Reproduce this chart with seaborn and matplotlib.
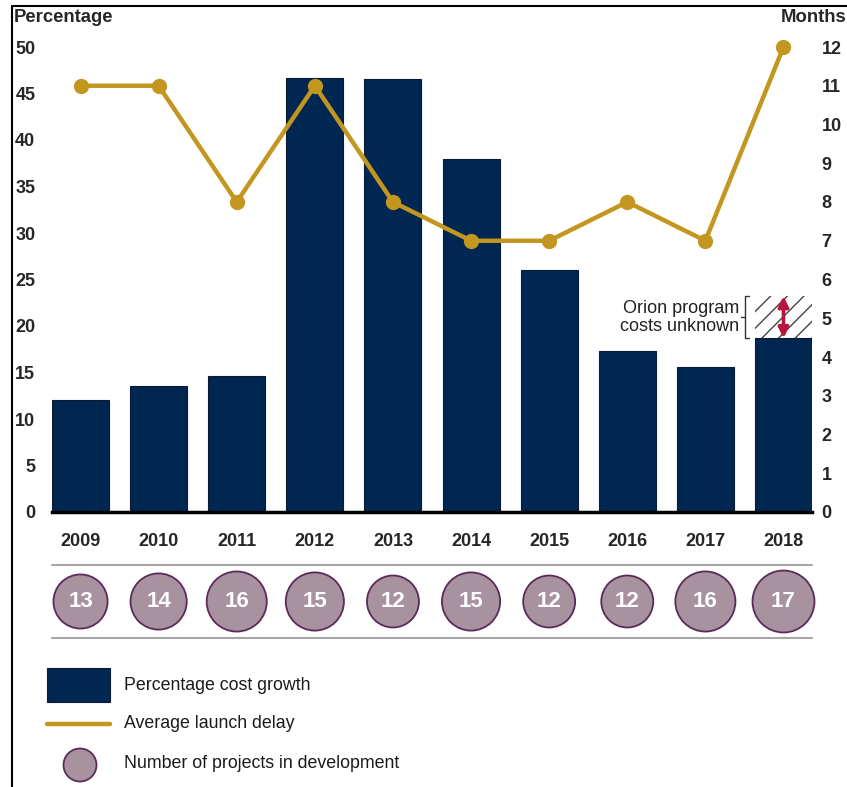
import numpy as np
import matplotlib
matplotlib.use("Agg")
import matplotlib.pyplot as plt
import seaborn as sns
from matplotlib.patches import Rectangle, Circle
from matplotlib.lines import Line2D

# chart data
years = ["2009", "2010", "2011", "2012", "2013", "2014", "2015", "2016", "2017", "2018"]
cost_growth = [12.0, 13.5, 14.6, 46.7, 46.6, 38.0, 26.0, 17.3, 15.6, 18.7]
launch_delay = [11, 11, 8, 11, 8, 7, 7, 8, 7, 12]
projects = [13, 14, 16, 15, 12, 15, 12, 12, 16, 17]
orion_upper = 23.2  # top of the "costs unknown" band on the 2018 bar

navy = "#002652"
gold = "#c2961f"
lilac = "#a8929f"
plum = "#5a2b58"
red = "#b8153e"

sns.set_theme(style="white")
plt.rcParams["font.family"] = ["Liberation Sans", "DejaVu Sans"]
plt.rcParams["hatch.linewidth"] = 1.0

W, H = 847, 787
fig = plt.figure(figsize=(W / 100, H / 100), dpi=100)

# main chart axes
ax = fig.add_axes([52 / W, 1 - 512 / H, 760 / W, 465 / H])
pos = np.arange(len(years))
sns.barplot(x=pos, y=cost_growth, color=navy, width=0.73, saturation=1,
            edgecolor="#0c1a33", linewidth=0.8, ax=ax, native_scale=True)
# hatched band for the unknown Orion costs
ax.bar(pos[-1], orion_upper - cost_growth[-1], bottom=cost_growth[-1], width=0.73,
       fill=False, hatch="//", edgecolor="#444444", linewidth=0)
ax.annotate("", xy=(pos[-1], orion_upper), xytext=(pos[-1], cost_growth[-1]),
            arrowprops=dict(arrowstyle="<|-|>", color=red, lw=2.6,
                            mutation_scale=15, shrinkA=0, shrinkB=0))
bx = pos[-1] - 0.49
ax.plot([bx + 0.05, bx, bx, bx + 0.05], [orion_upper, orion_upper, cost_growth[-1], cost_growth[-1]],
        color="#333333", lw=1, clip_on=False)
mid = (orion_upper + cost_growth[-1]) / 2
ax.plot([bx, bx - 0.06], [mid, mid], color="#333333", lw=1)
ax.text(bx - 0.08, mid, "Orion program\ncosts unknown", ha="right", va="center",
        fontsize=13, color="#222222", linespacing=1.1)

ax.set_xlim(-0.365, len(years) - 1 + 0.365)
ax.set_ylim(0, 50)
ax.set_yticks(range(0, 51, 5))
ax.set_xticks(pos)
ax.set_xticklabels(years, fontsize=13, fontweight="bold")
ax.tick_params(axis="y", length=0, pad=12, labelsize=13)
ax.tick_params(axis="x", length=0, pad=15)
for lbl in ax.get_yticklabels():
    lbl.set_fontweight("bold")
for s in ["top", "right", "left"]:
    ax.spines[s].set_visible(False)
ax.spines["bottom"].set_linewidth(2.5)
ax.spines["bottom"].set_color("black")
ax.set_xlabel("")
ax.set_ylabel("")

# launch delay on the right axis
ax2 = ax.twinx()
sns.lineplot(x=pos, y=launch_delay, color=gold, lw=3.2, marker="o", markersize=11,
             markeredgewidth=0, ax=ax2, clip_on=False)
ax2.set_ylim(0, 12)
ax2.set_yticks(range(0, 13))
ax2.tick_params(axis="y", length=0, pad=7, labelsize=13)
for lbl in ax2.get_yticklabels():
    lbl.set_fontweight("bold")
for s in ["top", "right", "left", "bottom"]:
    ax2.spines[s].set_visible(False)
ax2.set_xlim(ax.get_xlim())
ax2.set_ylabel("")

fig.text(14 / W, 1 - 17 / H, "Percentage", ha="left", va="center", fontsize=13.3, fontweight="bold")
fig.text(846 / W, 1 - 17 / H, "Months", ha="right", va="center", fontsize=13.3, fontweight="bold")

# number of projects row
axc = fig.add_axes([52 / W, 1 - 638 / H, 760 / W, 73 / H])
sns.scatterplot(x=pos, y=np.zeros(len(pos)), size=projects, sizes=(1400, 1990),
                size_norm=(12, 17), color=lilac, edgecolor=plum, linewidth=1.3,
                legend=False, ax=axc, clip_on=False)
for x, n in zip(pos, projects):
    axc.text(x, 0, str(n), ha="center", va="center", color="white",
             fontsize=16, fontweight="bold")
axc.axhline(1, color="#a6a6a6", lw=1.5, clip_on=False)
axc.axhline(-1, color="#a6a6a6", lw=1.5, clip_on=False)
axc.set_xlim(ax.get_xlim())
axc.set_ylim(-1, 1)
axc.axis("off")

# legend and frame drawn in pixel space
axl = fig.add_axes([0, 0, 1, 1], zorder=-1)
axl.set_xlim(0, W)
axl.set_ylim(H, 0)
axl.axis("off")
axl.add_patch(Rectangle((47, 668), 63, 34, facecolor=navy, edgecolor="#0c1a33", lw=0.8))
axl.add_line(Line2D([47, 110], [724, 724], color=gold, lw=3.2))
axl.add_patch(Circle((80, 765), 16.5, facecolor=lilac, edgecolor=plum, lw=1.3))
axl.text(124, 686, "Percentage cost growth", va="center", fontsize=12.8, color="#1a1a1a")
axl.text(124, 724, "Average launch delay", va="center", fontsize=12.8, color="#1a1a1a")
axl.text(124, 764, "Number of projects in development", va="center", fontsize=12.8, color="#1a1a1a")
axl.add_line(Line2D([12, W], [6, 6], color="black", lw=1.5))
axl.add_line(Line2D([12, 12], [6, H], color="black", lw=1.5))

fig.savefig("out.png", dpi=100)
